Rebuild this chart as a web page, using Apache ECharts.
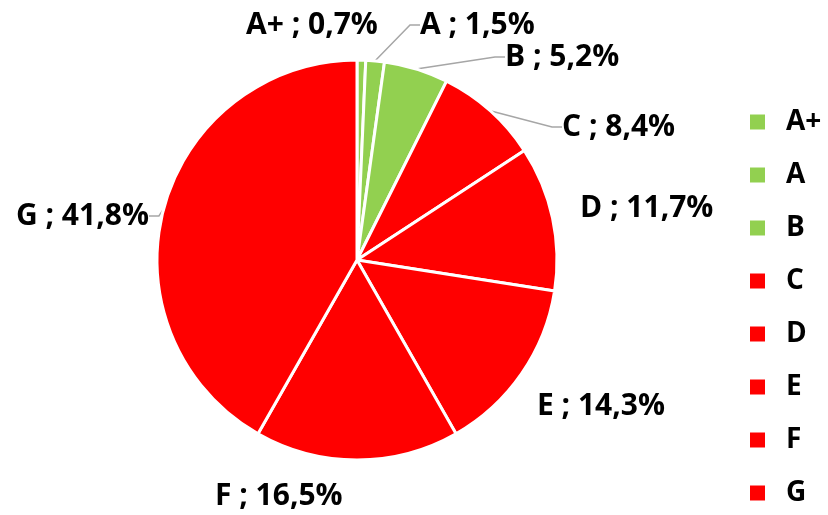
<!DOCTYPE html>
<html>
<head>
<meta charset="utf-8">
<script src="https://cdn.jsdelivr.net/npm/echarts@6/dist/echarts.min.js"></script>
<style>
  html, body { margin: 0; padding: 0; background: #fff; }
  #chart { width: 828px; height: 515px; }
</style>
</head>
<body>
<div id="chart"></div>
<script>
// energy classes and their share (%)
var classes = ['A+', 'A', 'B', 'C', 'D', 'E', 'F', 'G'];
var shares = [0.7, 1.5, 5.2, 8.4, 11.7, 14.3, 16.5, 41.8];

var green = '#92D050';
var red = '#FF0000';
var colors = [green, green, green, red, red, red, red, red];
var withLine = [false, true, true, true, false, false, false, true];

// where each label sits (left edge, vertical middle)
var labelPos = [
  [246, 25], [420, 25], [505, 57], [562, 127],
  [580, 208], [537, 406], [215, 496], [16, 216]
];

var chart = echarts.init(document.getElementById('chart'));

var data = classes.map(function (c, i) {
  return {
    name: c,
    value: shares[i],
    itemStyle: { color: colors[i] },
    labelLine: { show: withLine[i] }
  };
});

chart.setOption({
  animation: false,
  textStyle: { fontFamily: '"Open Sans", sans-serif' },
  legend: {
    orient: 'vertical',
    left: 748,
    top: 108,
    height: 405,
    padding: 0,
    icon: 'rect',
    itemWidth: 17,
    itemHeight: 17,
    itemGap: 25,
    selectedMode: false,
    data: classes,
    textStyle: {
      fontFamily: '"Open Sans", sans-serif',
      fontSize: 28,
      fontWeight: 'bold',
      color: '#000',
      padding: [0, 0, 0, 15]
    }
  },
  series: [{
    type: 'pie',
    center: [357, 260],
    radius: 200,
    startAngle: 90,
    clockwise: true,
    silent: true,
    itemStyle: { borderColor: '#fff', borderWidth: 3 },
    label: {
      show: true,
      position: 'outside',
      overflow: 'none',
      fontFamily: '"Open Sans", sans-serif',
      fontSize: 30,
      fontWeight: 'bold',
      color: '#000',
      formatter: function (p) {
        return p.name + ' ; ' + String(p.value).replace('.', ',') + '%';
      }
    },
    labelLine: {
      show: true,
      length: 10,
      length2: 10,
      lineStyle: { color: '#A6A6A6', width: 1.5 }
    },
    labelLayout: function (params) {
      var p = labelPos[params.dataIndex];
      return { x: p[0], y: p[1], align: 'left', verticalAlign: 'middle' };
    },
    data: data
  }]
});
</script>
</body>
</html>
